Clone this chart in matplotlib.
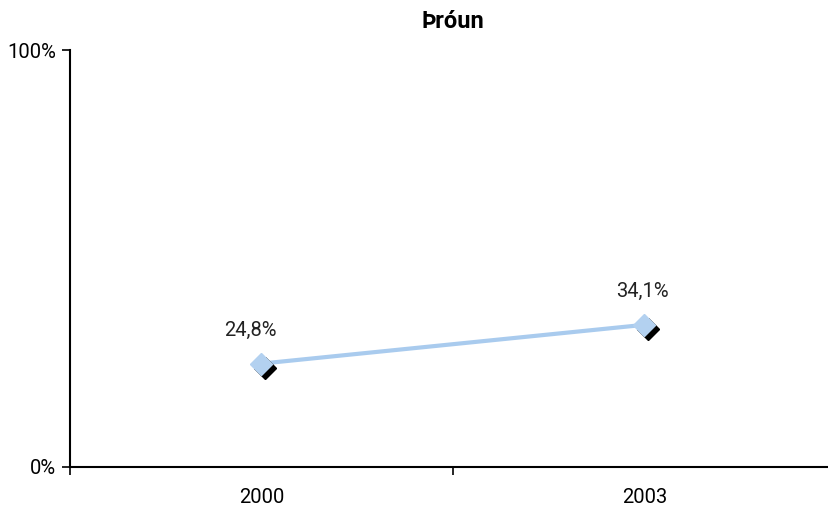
import matplotlib
matplotlib.use("Agg")
import matplotlib.pyplot as plt
from matplotlib import font_manager
import matplotlib.transforms as mtransforms

names = {f.name for f in font_manager.fontManager.ttflist}
fam = ["Liberation Sans Narrow", "Roboto", "DejaVu Sans"] if "Liberation Sans Narrow" in names else ["Roboto", "DejaVu Sans"]
plt.rcParams['font.family'] = fam

categories = ["2000", "2003"]
values = [24.8, 34.1]
labels = ["24,8%", "34,1%"]
title = "Þróun"

W, H = 829, 508
fig = plt.figure(figsize=(W/100, H/100), dpi=100)
ax = fig.add_axes([70/W, 41/H, 766/W, 417/H])
x = [0.5, 1.5]
ax.plot(x, values, color="#A9CBEE", lw=3, zorder=2)
shadow = mtransforms.offset_copy(ax.transData, fig=fig, x=4, y=-4, units='dots')
ax.plot(x, values, ls='none', marker='D', ms=11, color='black', transform=shadow, zorder=3)
ax.plot(x, values, ls='none', marker='D', ms=11, color='#B3D1F0', markeredgecolor='#B3D1F0', zorder=4)
for xi, v, lab in zip(x, values, labels):
    ax.annotate(lab, (xi, v), xytext=(-11 if xi < 1 else -2, 33), textcoords='offset pixels',
                ha='center', va='center', fontsize=14.5, color='#222222')
ax.set_xlim(0, 2)
ax.set_ylim(0, 100)
ax.set_yticks([0, 100])
ax.set_yticklabels(["0%", "100%"], fontsize=14.5)
ax.set_xticks([0, 1, 2])
ax.set_xticklabels(["", "", ""])
ax.set_xticks(x, minor=True)
ax.set_xticklabels(categories, minor=True, fontsize=14.5)
ax.tick_params(axis='x', which='minor', length=0, pad=15)
ax.tick_params(axis='x', which='major', length=6, width=1.2, direction='out')
ax.tick_params(axis='y', length=6, width=1.2, direction='out', pad=4)
for s in ['top', 'right']:
    ax.spines[s].set_visible(False)
for s in ['left', 'bottom']:
    ax.spines[s].set_linewidth(1.5)
ax.set_title(title, fontsize=17, fontweight='bold', x=383/766, pad=16)
fig.savefig("out.png", dpi=100)
